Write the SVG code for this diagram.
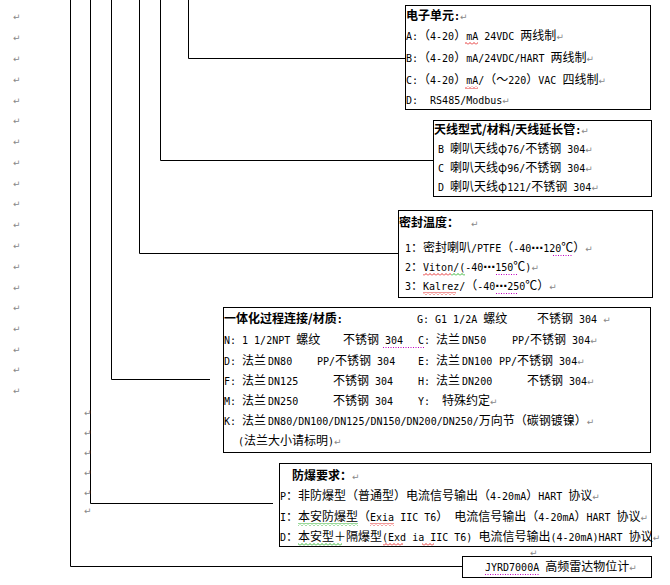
<svg xmlns="http://www.w3.org/2000/svg" width="670" height="585" viewBox="0 0 670 585">
<defs>
<style>
text{font-family:"Noto Sans CJK SC","Noto Sans",sans-serif;font-size:12px;fill:#000;white-space:pre}
.m{font-family:"DejaVu Sans Mono",monospace;font-size:10px}
.e{font-family:"DejaVu Sans",sans-serif;font-size:12px;font-weight:bold}
.b{font-weight:bold}
.p{font-family:"DejaVu Sans",sans-serif;font-size:9px;fill:#888;font-weight:normal}
.lp{font-family:"DejaVu Sans",sans-serif;font-size:9px;fill:#888}
.box{fill:#fff;stroke:#000;stroke-width:1}
.con{fill:none;stroke:#000;stroke-width:1}
.dot{stroke:#c000c0;stroke-width:1;stroke-dasharray:1 1.5}
</style>
<pattern id="wr" width="4" height="3" patternUnits="userSpaceOnUse"><path d="M0,2.5 L2,0.5 L4,2.5" fill="none" stroke="#e00000" stroke-width="0.8"/></pattern>
<pattern id="wg" width="4" height="3" patternUnits="userSpaceOnUse"><path d="M0,2.5 L2,0.5 L4,2.5" fill="none" stroke="#00a000" stroke-width="0.8"/></pattern>
</defs>
<rect width="670" height="585" fill="#fff"/>

<g id="connectors" class="con">
<path d="M188.5,0 V58.5 H405"/>
<path d="M160.5,0 V160.5 H433"/>
<path d="M139.5,0 V253.5 H398"/>
<path d="M111.5,0 V379.5 H210"/>
<path d="M90.5,0 V503.5 H273"/>
<path d="M70.5,0 V566.5 H462"/>
</g>

<g id="marks">
<text class="lp" x="13" y="20">↵</text>
<text class="lp" x="13" y="41">↵</text>
<text class="lp" x="13" y="62">↵</text>
<text class="lp" x="13" y="83">↵</text>
<text class="lp" x="13" y="104">↵</text>
<text class="lp" x="13" y="124">↵</text>
<text class="lp" x="13" y="145">↵</text>
<text class="lp" x="13" y="166">↵</text>
<text class="lp" x="13" y="187">↵</text>
<text class="lp" x="13" y="207">↵</text>
<text class="lp" x="13" y="228">↵</text>
<text class="lp" x="13" y="249">↵</text>
<text class="lp" x="13" y="270">↵</text>
<text class="lp" x="13" y="291">↵</text>
<text class="lp" x="13" y="311">↵</text>
<text class="lp" x="13" y="332">↵</text>
<text class="lp" x="13" y="353">↵</text>
<text class="lp" x="13" y="373">↵</text>
<text class="lp" x="13" y="394">↵</text>
<text class="lp" x="84" y="416">↵</text>
<text class="lp" x="84" y="436">↵</text>
<text class="lp" x="84" y="456">↵</text>
<text class="lp" x="84" y="476">↵</text>
<text class="lp" x="84" y="496">↵</text>
<text class="lp" x="84" y="514">↵</text>
<text class="lp" x="530" y="556">↵</text>
</g>

<g id="electronics">
<rect class="box" x="405.5" y="5.5" width="245" height="104"/>
<text x="406" y="20" class="b">电子单元<tspan class="m">:</tspan><tspan class="p">↵</tspan></text>
<text x="406" y="40"><tspan class="m">A:</tspan>（<tspan class="m">4-20</tspan>）<tspan class="m">mA 24VDC </tspan>两线制<tspan class="p">↵</tspan></text>
<text x="406" y="62"><tspan class="m">B:</tspan>（<tspan class="m">4-20</tspan>）<tspan class="m">mA/24VDC/HART </tspan>两线制<tspan class="p">↵</tspan></text>
<text x="406" y="84"><tspan class="m">C:</tspan>（<tspan class="m">4-20</tspan>）<tspan class="m">mA/</tspan>（～<tspan class="m">220</tspan>）<tspan class="m">VAC </tspan>四线制<tspan class="p">↵</tspan></text>
<text x="406" y="104"><tspan class="m">D:  RS485/Modbus</tspan><tspan class="p">↵</tspan></text>
<rect x="465" y="42" width="13" height="3" fill="url(#wr)"/>
<rect x="465" y="86" width="13" height="3" fill="url(#wr)"/>
</g>

<g id="antenna">
<rect class="box" x="433.5" y="120.5" width="218" height="76"/>
<text x="434" y="134" class="b">天线型式/材料/天线延长管<tspan class="m">:</tspan><tspan class="p">↵</tspan></text>
<text x="438" y="153"><tspan class="m">B </tspan>喇叭天线φ<tspan class="m">76/</tspan>不锈钢<tspan class="m"> 304</tspan><tspan class="p">↵</tspan></text>
<text x="438" y="172"><tspan class="m">C </tspan>喇叭天线φ<tspan class="m">96/</tspan>不锈钢<tspan class="m"> 304</tspan><tspan class="p">↵</tspan></text>
<text x="438" y="191"><tspan class="m">D </tspan>喇叭天线φ<tspan class="m">121/</tspan>不锈钢<tspan class="m"> 304</tspan><tspan class="p">↵</tspan></text>
</g>

<g id="seal">
<rect class="box" x="398.5" y="210.5" width="254" height="87"/>
<text x="399" y="227" class="b">密封温度：<tspan class="m">  </tspan><tspan class="p">↵</tspan></text>
<text x="405" y="252"><tspan class="m">1</tspan>：密封喇叭<tspan class="m">/PTFE</tspan>（<tspan class="m">-40</tspan><tspan class="e">⋯</tspan><tspan class="m">120</tspan>℃）<tspan class="p">↵</tspan></text>
<text x="405" y="271"><tspan class="m">2</tspan>：<tspan class="m">Viton/(-40</tspan><tspan class="e">⋯</tspan><tspan class="m">150</tspan>℃<tspan class="m">)</tspan><tspan class="p">↵</tspan></text>
<text x="405" y="290"><tspan class="m">3</tspan>：<tspan class="m">Kalrez/</tspan>（<tspan class="m">-40</tspan><tspan class="e">⋯</tspan><tspan class="m">250</tspan>℃）<tspan class="p">↵</tspan></text>
<line class="dot" x1="553" y1="255.5" x2="573" y2="255.5"/>
<rect x="423" y="273" width="28" height="3" fill="url(#wr)"/>
<rect x="451" y="273" width="14" height="3" fill="url(#wg)"/>
<line class="dot" x1="496" y1="274.5" x2="518" y2="274.5"/>
<rect x="423" y="292" width="33" height="3" fill="url(#wr)"/>
<line class="dot" x1="496" y1="293.5" x2="518" y2="293.5"/>
</g>

<g id="connection">
<rect class="box" x="223.5" y="307.5" width="427" height="145"/>
<text x="224" y="323" class="b">一体化过程连接/材质<tspan class="m">:</tspan></text>
<text x="417" y="323"><tspan class="m">G: G1 1/2A </tspan>螺纹</text>
<text x="537" y="323">不锈钢<tspan class="m"> 304 </tspan><tspan class="p">↵</tspan></text>

<text x="224" y="344"><tspan class="m">N: 1 1/2NPT </tspan>螺纹</text>
<text x="343" y="344">不锈钢<tspan class="m"> 304</tspan></text>
<text x="418" y="344"><tspan class="m">C: </tspan>法兰<tspan class="m" dx="2">DN50</tspan></text>
<text x="512" y="344"><tspan class="m">PP/</tspan>不锈钢<tspan class="m"> 304</tspan><tspan class="p">↵</tspan></text>

<text x="224" y="365"><tspan class="m">D: </tspan>法兰<tspan class="m" dx="2">DN80</tspan></text>
<text x="317" y="365"><tspan class="m">PP/</tspan>不锈钢<tspan class="m"> 304</tspan></text>
<text x="418" y="365"><tspan class="m">E: </tspan>法兰<tspan class="m" dx="2">DN100</tspan></text>
<text x="499" y="365"><tspan class="m">PP/</tspan>不锈钢<tspan class="m"> 304</tspan><tspan class="p">↵</tspan></text>

<text x="224" y="385"><tspan class="m">F: </tspan>法兰<tspan class="m" dx="2">DN125</tspan></text>
<text x="333" y="385">不锈钢<tspan class="m"> 304</tspan></text>
<text x="418" y="385"><tspan class="m">H: </tspan>法兰<tspan class="m" dx="2">DN200</tspan></text>
<text x="527" y="385">不锈钢<tspan class="m"> 304</tspan><tspan class="p">↵</tspan></text>

<text x="224" y="405"><tspan class="m">M: </tspan>法兰<tspan class="m" dx="2">DN250</tspan></text>
<text x="333" y="405">不锈钢<tspan class="m"> 304</tspan></text>
<text x="418" y="405"><tspan class="m">Y:  </tspan>特殊约定<tspan class="p">↵</tspan></text>

<text x="224" y="425"><tspan class="m">K: </tspan>法兰<tspan class="m" dx="2">DN80/DN100/DN125/DN150/DN200/DN250/</tspan>万向节（碳钢镀镍）<tspan class="p">↵</tspan></text>
<text x="238" y="445"><tspan class="m">(</tspan>法兰大小请标明<tspan class="m">)</tspan><tspan class="p">↵</tspan></text>
<line class="dot" x1="383" y1="347.5" x2="424" y2="347.5"/>
</g>

<g id="explosion">
<rect class="box" x="279.5" y="463.5" width="372" height="83"/>
<text x="292" y="480" class="b">防爆要求：<tspan class="p">↵</tspan></text>
<text x="280" y="500"><tspan class="m">P</tspan>：非防爆型（普通型）电流信号输出（<tspan class="m">4-20mA</tspan>）<tspan class="m">HART </tspan>协议<tspan class="p">↵</tspan></text>
<text x="280" y="521"><tspan class="m">I</tspan>：本安防爆型（<tspan class="m">Exia IIC T6</tspan>）<tspan class="m"> </tspan>电流信号输出（<tspan class="m">4-20mA</tspan>）<tspan class="m">HART </tspan>协议<tspan class="p">↵</tspan></text>
<text x="280" y="541"><tspan class="m">D</tspan>：本安型＋隔爆型<tspan class="m">(Exd ia IIC T6) </tspan>电流信号输出<tspan class="m">(4-20mA)HART </tspan>协议<tspan class="p">↵</tspan></text>
<rect x="298" y="523" width="60" height="3" fill="url(#wg)"/>
<rect x="370" y="523" width="24" height="3" fill="url(#wr)"/>
<rect x="298" y="543" width="44" height="3" fill="url(#wg)"/>
<rect x="383" y="543" width="20" height="3" fill="url(#wr)"/>
<rect x="422" y="543" width="12" height="3" fill="url(#wr)"/>
</g>

<g id="product">
<rect class="box" x="462.5" y="556.5" width="189" height="21"/>
<text x="485" y="571"><tspan class="m">JYRD7000A </tspan>高频雷达物位计<tspan class="p">↵</tspan></text>
<line class="dot" x1="485" y1="574.5" x2="540" y2="574.5"/>
</g>
</svg>
